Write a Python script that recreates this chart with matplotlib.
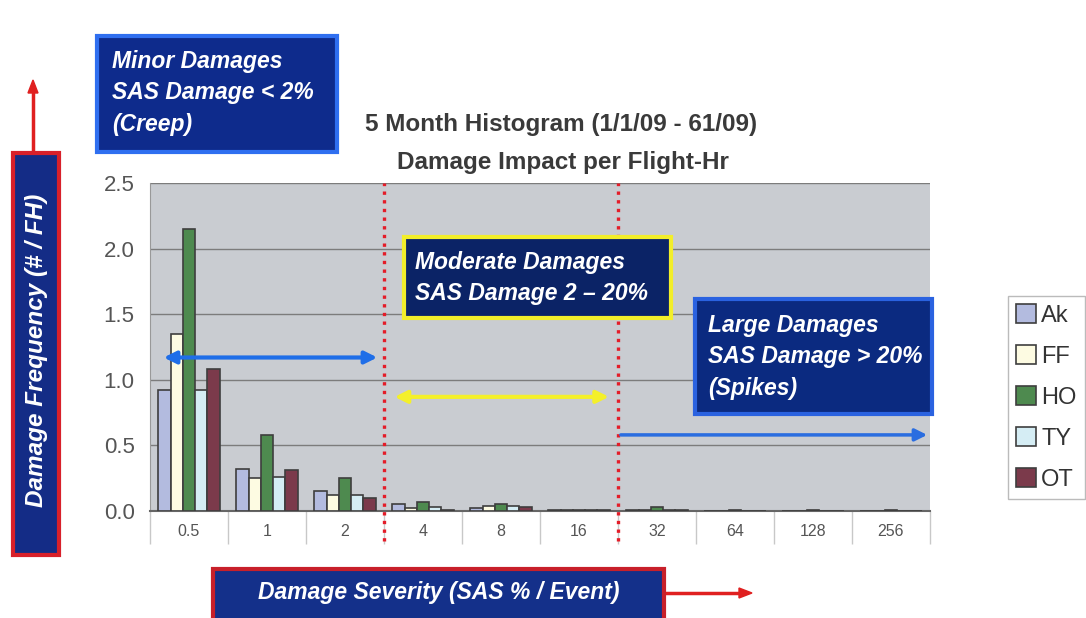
import numpy as np
import matplotlib.pyplot as plt
from matplotlib.patches import Rectangle

plt.rcParams['font.family'] = ['Liberation Sans', 'DejaVu Sans']

# damage severity bins (SAS % / event)
severity = ['0.5', '1', '2', '4', '8', '16', '32', '64', '128', '256']
series = ['Ak', 'FF', 'HO', 'TY', 'OT']

ak = [0.92, 0.32, 0.15, 0.05, 0.02, 0.005, 0.01, 0.003, 0.002, 0.003]
ff = [1.35, 0.25, 0.12, 0.02, 0.04, 0.005, 0.01, 0.003, 0.001, 0.003]
ho = [2.15, 0.58, 0.25, 0.07, 0.05, 0.01, 0.03, 0.005, 0.005, 0.005]
ty = [0.92, 0.26, 0.12, 0.03, 0.04, 0.01, 0.01, 0.003, 0.002, 0.003]
ot = [1.08, 0.31, 0.10, 0.01, 0.03, 0.01, 0.005, 0.002, 0.001, 0.002]

colors = ['#b3bbdf', '#fdfbe2', '#4e8a4f', '#d5edf4', '#7b3a4b']

W, H = 1086, 618
fig = plt.figure(figsize=(W / 100, H / 100), dpi=100)


def fx(px):
    return px / W


def fy(py):
    return 1 - py / H


ax = fig.add_axes([fx(150), fy(511), fx(930) - fx(150), fy(183) - fy(511)])
ax.set_facecolor('#c9ccd1')

x = np.arange(len(severity))
bw = 0.158
for i, (vals, name) in enumerate(zip([ak, ff, ho, ty, ot], series)):
    ax.bar(x + (i - 2) * bw, vals, bw, color=colors[i], edgecolor='#3e3e3e',
           linewidth=1.2, label=name, zorder=3)

ax.set_xlim(-0.5, len(severity) - 0.5)
ax.set_ylim(0, 2.5)
ax.set_yticks(np.arange(0, 2.51, 0.5))
ax.set_yticklabels([f'{v:.1f}' for v in np.arange(0, 2.51, 0.5)])
ax.grid(axis='y', color='#7c7c7c', linewidth=1.0, zorder=1)
ax.set_xticks(x)
ax.set_xticklabels(severity)
ax.set_xticks(np.arange(-0.5, len(severity)), minor=True)
ax.tick_params(axis='x', which='major', length=0, pad=9, labelsize=11.5, labelcolor='#555555')
ax.tick_params(axis='x', which='minor', length=24, width=1, color='#c8c8c8')
ax.tick_params(axis='y', length=0, pad=11, labelsize=16, labelcolor='#555555')
for s in ['top', 'right']:
    ax.spines[s].set_visible(False)
ax.spines['left'].set_color('#999999')
ax.spines['bottom'].set_color('#666666')
ax.spines['bottom'].set_linewidth(1.5)

# region separators
for xb in [2.5, 5.5]:
    ax.axvline(xb, ymin=-0.09, ymax=1.0, color='#e41c28', linestyle=(0, (1, 1.6)),
               linewidth=2.4, clip_on=False, zorder=4)

# range arrows
ax.annotate('', xy=(-0.36, 1.17), xytext=(2.45, 1.17),
            arrowprops=dict(arrowstyle='<|-|>', color='#1f6ee8', lw=3, mutation_scale=18), zorder=5)
ax.annotate('', xy=(2.6, 0.87), xytext=(5.42, 0.87),
            arrowprops=dict(arrowstyle='<|-|>', color='#f4f02a', lw=3, mutation_scale=18), zorder=5)
ax.annotate('', xy=(9.5, 0.58), xytext=(5.5, 0.58),
            arrowprops=dict(arrowstyle='-|>', color='#2a6de0', lw=2.5, mutation_scale=18), zorder=5)

fig.text(fx(561), fy(125), '5 Month Histogram (1/1/09 - 61/09)', ha='center', va='center',
         fontsize=17.5, fontweight='bold', color='#3a3a3a')
fig.text(fx(563), fy(162), 'Damage Impact per Flight-Hr', ha='center', va='center',
         fontsize=17.5, fontweight='bold', color='#3a3a3a')


def box(x0, y0, x1, y1, face, edge, lw=3):
    r = Rectangle((fx(x0), fy(y1)), fx(x1) - fx(x0), fy(y0) - fy(y1), transform=fig.transFigure,
                  facecolor=face, edgecolor=edge, linewidth=lw, zorder=10)
    fig.add_artist(r)


txt = dict(color='white', fontsize=16.5, fontweight='bold', fontstyle='italic', zorder=11,
           linespacing=1.45)

box(97, 36, 337, 152, '#0e2b8c', '#2f6ff0')
fig.text(fx(112), fy(93), 'Minor Damages\nSAS Damage < 2%\n(Creep)', ha='left', va='center', **txt)

box(404, 237, 671, 318, '#0b2366', '#f2ee2a')
fig.text(fx(415), fy(278), 'Moderate Damages\nSAS Damage 2 \u2013 20%', ha='left', va='center', **txt)

box(695, 299, 932, 414, '#0b2a80', '#2a62e0')
fig.text(fx(708), fy(357), 'Large Damages\nSAS Damage > 20%\n(Spikes)', ha='left', va='center', **txt)

box(13, 153, 59, 555, '#142c86', '#d8202a')
fig.text(fx(37), fy(350), 'Damage Frequency (# / FH)', ha='center', va='center', rotation=90,
         **{**txt, 'fontsize': 17.5})

box(213, 569, 664, 625, '#14308a', '#c8202a')
fig.text(fx(439), fy(593), 'Damage Severity (SAS % / Event)', ha='center', va='center',
         **{**txt, 'fontsize': 16.5})

# axis direction arrows
fig.add_artist(plt.Line2D([fx(33), fx(33)], [fy(152), fy(92)], color='#e02020', lw=2.5))
fig.patches.append(plt.Polygon([[fx(28), fy(93)], [fx(38), fy(93)], [fx(33), fy(80)]],
                               closed=True, transform=fig.transFigure, color='#e02020'))
fig.add_artist(plt.Line2D([fx(664), fx(740)], [fy(593), fy(593)], color='#e02020', lw=2.5))
fig.patches.append(plt.Polygon([[fx(739), fy(588)], [fx(739), fy(598)], [fx(752), fy(593)]],
                               closed=True, transform=fig.transFigure, color='#e02020'))

leg = fig.legend(loc='upper left', bbox_to_anchor=(fx(1008), fy(296)), frameon=True,
                 fontsize=17, handlelength=0.85, handleheight=0.85, handletextpad=0.2,
                 labelspacing=0.78, borderpad=0.35, borderaxespad=0, fancybox=False,
                 edgecolor='#aaaaaa')
for t in leg.get_texts():
    t.set_color('#333333')

fig.savefig('out.png', dpi=100, facecolor='white')
